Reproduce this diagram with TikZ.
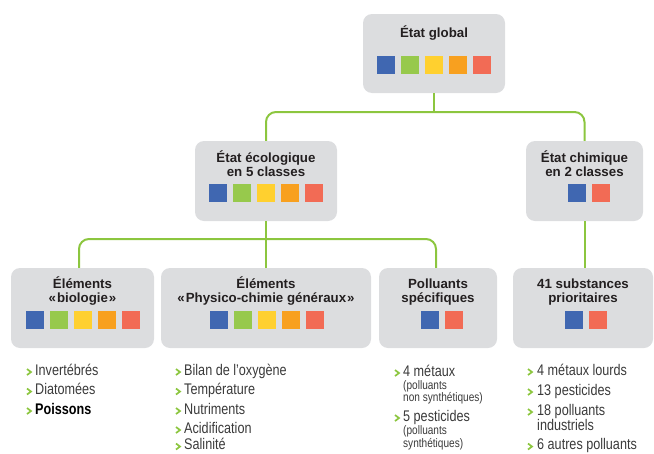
\documentclass[tikz,border=0pt]{standalone}
\usepackage{fontspec}
\setmainfont{Liberation Sans}
\newfontfamily\condfont[FakeStretch=0.82]{Liberation Sans}
\definecolor{blueq}{HTML}{4067B1}
\definecolor{greenq}{HTML}{97C94C}
\definecolor{yellowq}{HTML}{FFD02F}
\definecolor{orangeq}{HTML}{F8A01F}
\definecolor{redq}{HTML}{F26B55}
\definecolor{boxgray}{HTML}{DCDDDF}
\definecolor{linegreen}{HTML}{8CC63F}
\definecolor{titlecol}{HTML}{231F20}
\definecolor{listcol}{HTML}{3A3A3A}
\tikzset{
  box/.style={fill=boxgray, rounded corners=9pt, inner sep=0pt, draw=none},
  sq/.style={minimum size=18pt, inner sep=0pt, outer sep=0pt, draw=none},
  conn/.style={draw=linegreen, line width=2pt},
  title/.style={font=\bfseries\fontsize{13.3}{15}\selectfont, text=titlecol, inner sep=0pt, anchor=base},
  item/.style={font=\condfont\fontsize{15.4}{18}\selectfont, text=listcol, anchor=base west, inner sep=0pt},
  smallitem/.style={font=\condfont\fontsize{12.3}{14}\selectfont, text=listcol, anchor=base west, inner sep=0pt},
  chevron/.style={draw=linegreen, line width=1.7pt, miter limit=4}
}
\newcommand\chev[2]{\draw[chevron] (#1,#2-6) -- (#1+4,#2-3) -- (#1,#2);}
\begin{document}
\begin{tikzpicture}[x=1pt,y=-1pt]
\useasboundingbox (0,0) rectangle (654,453);
\clip (0,0) rectangle (654,453);

% boxes
\node[box, minimum width=142pt, minimum height=79pt] (G) at (434,53.5) {};
\node[box, minimum width=142pt, minimum height=80pt] (E) at (266,181) {};
\node[box, minimum width=117pt, minimum height=80pt] (C) at (584.5,181) {};
\node[box, minimum width=143pt, minimum height=80pt] (B) at (82.5,308) {};
\node[box, minimum width=210pt, minimum height=80pt] (P) at (266,308) {};
\node[box, minimum width=118pt, minimum height=80pt] (S) at (438,308) {};
\node[box, minimum width=140pt, minimum height=80pt] (Q) at (583,308) {};

% connectors
\coordinate (j1) at (434,112);
\coordinate (j2) at (266,239);
\draw[conn] (G.south) -- (j1);
\draw[conn, rounded corners=10pt] (E.north) |- (j1) -| (C.north);
\draw[conn] (E.south) -- (P.north);
\draw[conn, rounded corners=10pt] ([xshift=-3.5pt]B.north) |- (j2) -| ([xshift=-2pt]S.north);
\draw[conn] (C.south) -- (C.south |- Q.north);

% titles
\node[title] (Gt) at (434,37.7) {État global};
\node[title] (Et1) at (266,162) {État écologique};
\node[title] (Et2) at (266,176.5) {en 5 classes};
\node[title] (Ct1) at (584.5,162) {État chimique};
\node[title] (Ct2) at (584.5,176.5) {en 2 classes};
\node[title] (Bt1) at (82.5,288.3) {Éléments};
\node[title] (Bt2) at (82.5,302.7) {«\hspace{1pt}biologie\hspace{1pt}»};
\node[title] (Pt1) at (266,288.3) {Éléments};
\node[title] (Pt2) at (266,302.7) {«\hspace{1pt}Physico-chimie généraux\hspace{1pt}»};
\node[title] (St1) at (438,288.3) {Polluants};
\node[title] (St2) at (438,302.7) {spécifiques};
\node[title] (Qt1) at (583,288.3) {41 substances};
\node[title] (Qt2) at (583,302.7) {prioritaires};

% squares
\foreach \c [count=\i] in {blueq,greenq,yellowq,orangeq,redq} {
  \node[sq, fill=\c] (G\i) at ({386+24*(\i-1)},65) {};
  \node[sq, fill=\c] (E\i) at ({218+24*(\i-1)},193) {};
  \node[sq, fill=\c] (B\i) at ({35+24*(\i-1)},320) {};
  \node[sq, fill=\c] (P\i) at ({219+24*(\i-1)},320) {};
}
\node[sq, fill=blueq] (C1) at (577,193) {};
\node[sq, fill=redq] (C2) at (601,193) {};
\node[sq, fill=blueq] (S1) at (430,320) {};
\node[sq, fill=redq] (S2) at (454,320) {};
\node[sq, fill=blueq] (Q1) at (574,320) {};
\node[sq, fill=redq] (Q2) at (598,320) {};

% list: biologie
\chev{27}{375}\node[item] (b1) at (35,375) {Invertébrés};
\chev{27}{394.5}\node[item] (b2) at (35,394.5) {Diatomées};
\chev{27}{414}\node[item, font=\condfont\bfseries\fontsize{15.4}{18}\selectfont, text=black] (b3) at (35,414) {Poissons};

% list: physico-chimie
\chev{176}{375}\node[item] (p1) at (184,375) {Bilan de l’oxygène};
\chev{176}{394.5}\node[item] (p2) at (184,394.5) {Température};
\chev{176}{414}\node[item] (p3) at (184,414) {Nutriments};
\chev{176}{433}\node[item] (p4) at (184,433) {Acidification};
\chev{176}{449.5}\node[item] (p5) at (184,449.5) {Salinité};

% list: polluants spécifiques
\chev{395}{376}\node[item] (s1) at (403,376) {4 métaux};
\node[smallitem] (s1a) at (403,389) {(polluants};
\node[smallitem] (s1b) at (403,401.5) {non synthétiques)};
\chev{395}{421}\node[item] (s2) at (403,421) {5 pesticides};
\node[smallitem] (s2a) at (403,434.5) {(polluants};
\node[smallitem] (s2b) at (403,447.5) {synthétiques)};

% list: substances prioritaires
\chev{528}{375}\node[item] (q1) at (537,375) {4 métaux lourds};
\chev{528}{395}\node[item] (q2) at (537,395) {13 pesticides};
\chev{528}{415}\node[item] (q3) at (537,415) {18 polluants};
\node[item] (q3b) at (537,430) {industriels};
\chev{528}{449.5}\node[item] (q4) at (537,449.5) {6 autres polluants};
\end{tikzpicture}
\end{document}
